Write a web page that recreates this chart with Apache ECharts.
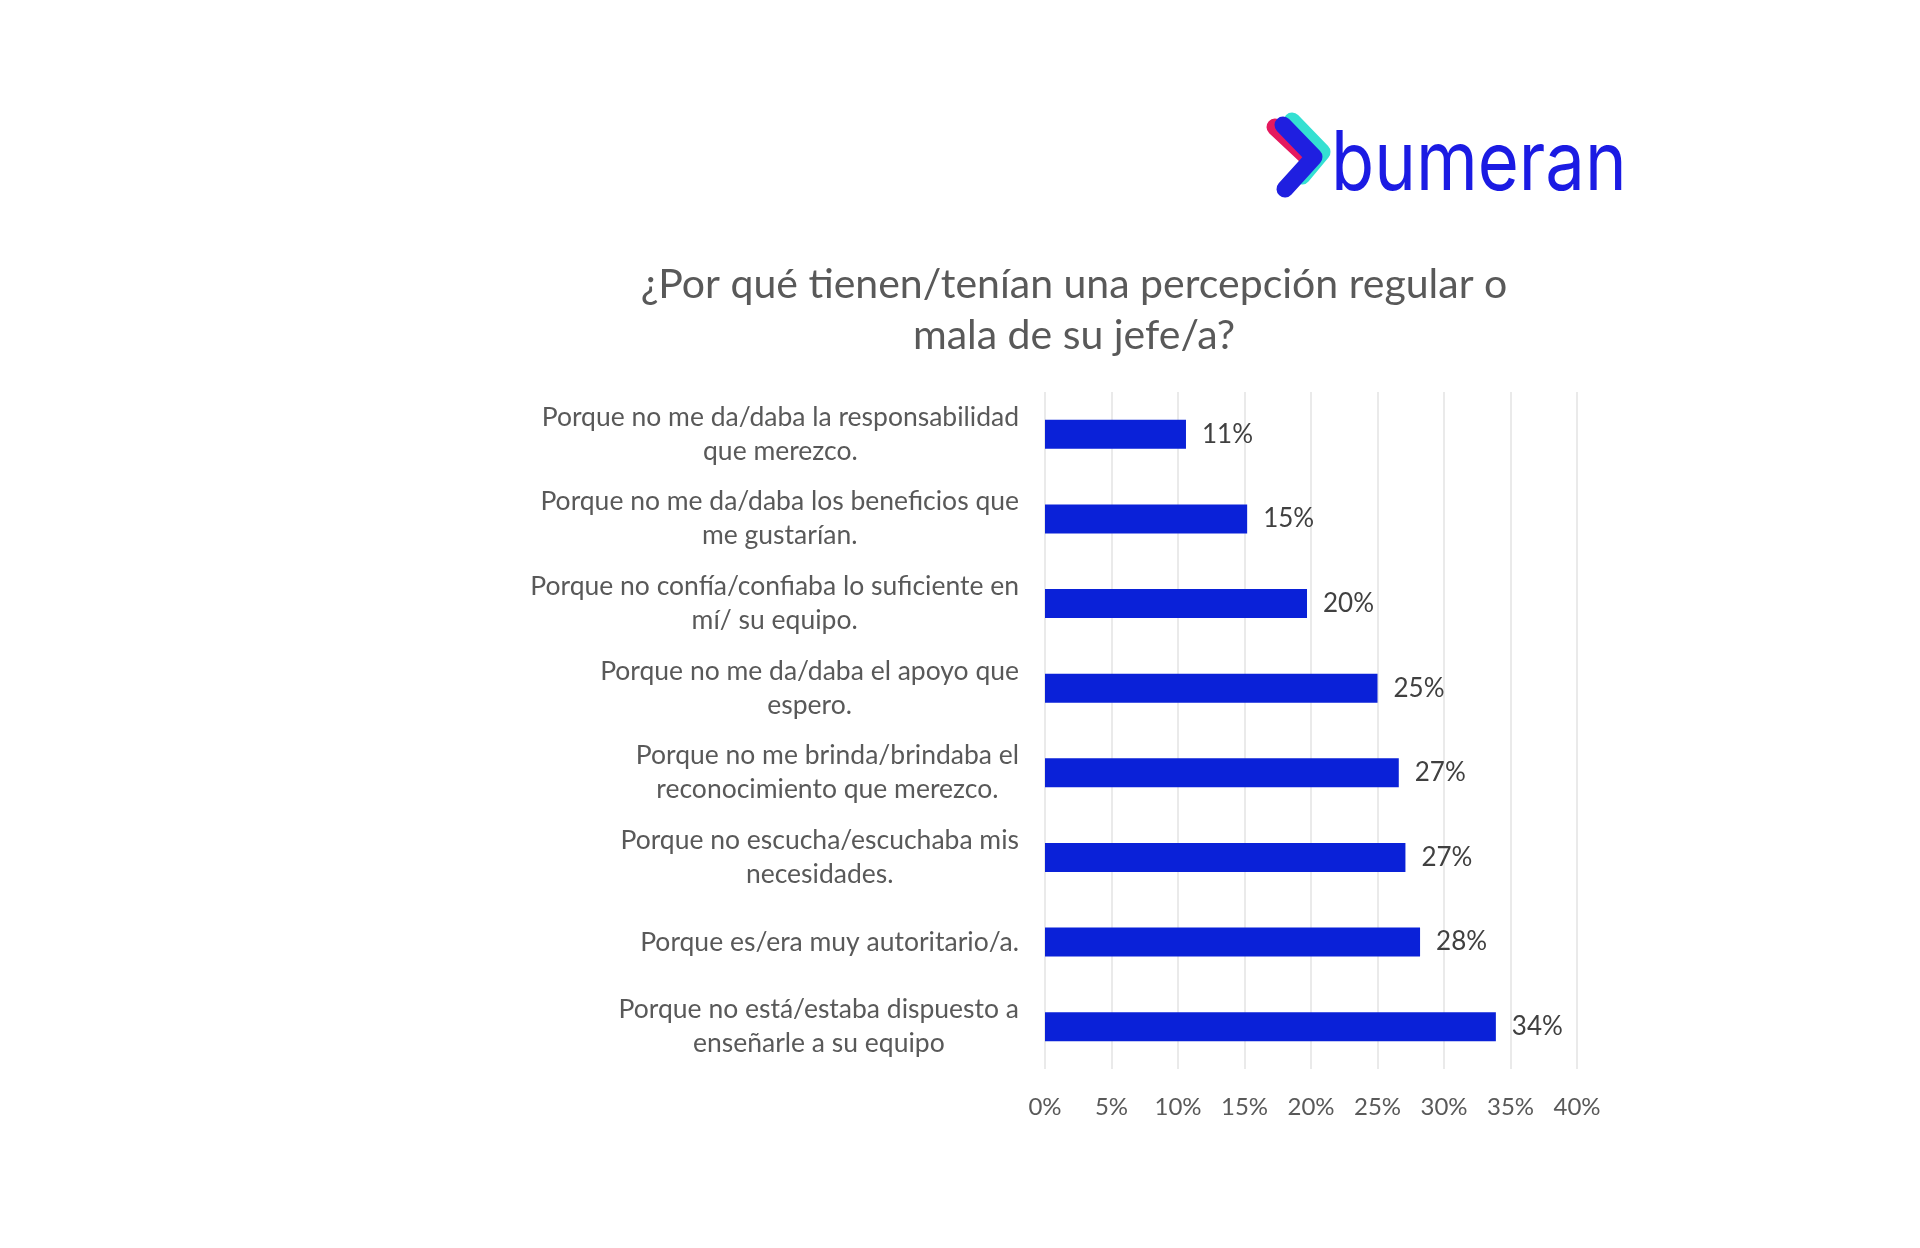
<!DOCTYPE html>
<html>
<head>
<meta charset="utf-8">
<script src="https://cdn.jsdelivr.net/npm/echarts@6/dist/echarts.min.js"></script>
<style>
    html, body { margin: 0; padding: 0; background: #fff; }
    #main { width: 1920px; height: 1248px; }
</style>
</head>
<body>
<div id="main"></div>
<script>
// categorías (de arriba hacia abajo)
let categories = [
    'Porque no me da/daba la responsabilidad\nque merezco.',
    'Porque no me da/daba los beneficios que\nme gustarían.',
    'Porque no confía/confiaba lo suficiente en\nmí/ su equipo.',
    'Porque no me da/daba el apoyo que\nespero.',
    'Porque no me brinda/brindaba el\nreconocimiento que merezco.',
    'Porque no escucha/escuchaba mis\nnecesidades.',
    'Porque es/era muy autoritario/a.',
    'Porque no está/estaba dispuesto a\nenseñarle a su equipo'
];
// porcentajes
let values = [10.6, 15.2, 19.7, 25.0, 26.6, 27.1, 28.2, 33.9];
let xTicks = [0, 5, 10, 15, 20, 25, 30, 35, 40];

let FONT = 'Lato';
let GREY = '#595959';

let option = {
    backgroundColor: '#ffffff',
    title: {
        text: '¿Por qué tienen/tenían una percepción regular o\nmala de su jefe/a?',
        left: 1069,
        top: 254,
        textAlign: 'center',
        textStyle: {
            fontFamily: FONT,
            fontSize: 41,
            fontWeight: 'normal',
            color: GREY,
            lineHeight: 51
        }
    },
    graphic: [
        // logo: chevron en tres colores
        {
            type: 'polyline', z: 10,
            shape: { points: [[1275, 127], [1306, 156]] },
            style: { stroke: '#e5195e', lineWidth: 17, fill: null, lineCap: 'round', lineJoin: 'round' }
        },
        {
            type: 'polyline', z: 10,
            shape: { points: [[1292, 121], [1322, 152], [1302, 176]] },
            style: { stroke: '#34e0d2', lineWidth: 17, fill: null, lineCap: 'round', lineJoin: 'round' }
        },
        {
            type: 'polyline', z: 11,
            shape: { points: [[1283, 125], [1314, 157], [1285, 189]] },
            style: { stroke: '#1f1fe0', lineWidth: 17, fill: null, lineCap: 'round', lineJoin: 'round' }
        },
        {
            type: 'text', z: 11,
            x: 1331, y: 124,
            scaleX: 0.86,
            style: {
                text: 'bumeran',
                font: '400 82px Inter',
                fill: '#1b1be3'
            }
        }
    ],
    grid: {
        left: 1045,
        right: 343,
        top: 392,
        height: 677
    },
    xAxis: {
        type: 'value',
        min: xTicks[0],
        max: xTicks[xTicks.length - 1],
        interval: 5,
        axisLine: { show: false },
        axisTick: { show: false },
        splitLine: { lineStyle: { color: '#e3e3e3', width: 1.5 } },
        axisLabel: {
            margin: 26,
            fontFamily: FONT,
            fontSize: 24,
            color: GREY,
            formatter: v => v + '%'
        }
    },
    yAxis: {
        type: 'category',
        data: categories,
        inverse: true,
        axisLine: { show: false },
        axisTick: { show: false },
        axisLabel: {
            margin: 26,
            align: 'right',
            fontFamily: FONT,
            fontSize: 26.5,
            color: GREY,
            lineHeight: 34,
            formatter: function (v) {
                return v.split('\n').map(l => '{c|' + l + '}').join('\n');
            },
            rich: {
                c: {
                    align: 'center',
                    fontFamily: FONT,
                    fontSize: 26.5,
                    color: GREY,
                    lineHeight: 34
                }
            }
        }
    },
    series: [
        {
            type: 'bar',
            data: values,
            barWidth: 29,
            itemStyle: { color: '#0a21d8' },
            label: {
                show: true,
                position: 'right',
                distance: 16,
                fontFamily: FONT,
                fontSize: 26,
                color: '#404040',
                formatter: p => Math.round(p.value) + '%'
            }
        }
    ]
};

let myChart = echarts.init(document.getElementById('main'));
myChart.setOption(option);
</script>
</body>
</html>
